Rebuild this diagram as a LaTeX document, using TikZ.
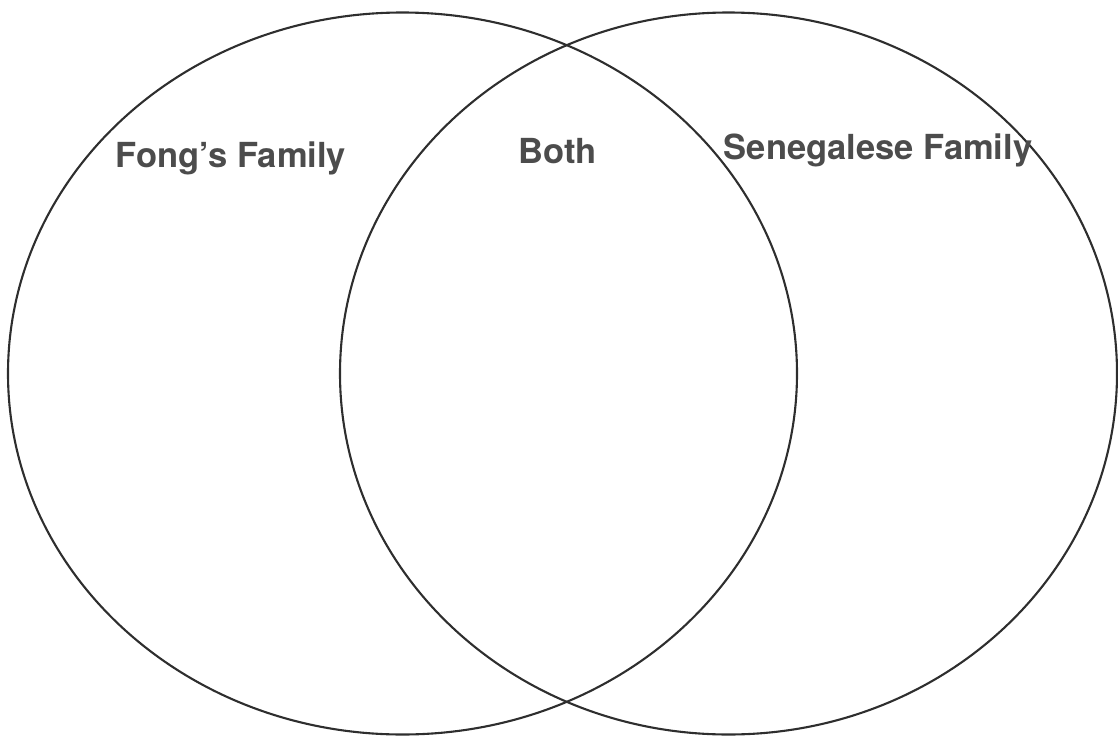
\documentclass[tikz,border=0pt]{standalone}
\usepackage{fontspec}
\setmainfont{TeX Gyre Heros}
\begin{document}
\begin{tikzpicture}[x=1pt,y=-1pt]
  \tikzset{
    ring/.style={draw=black!82, line width=2.1pt},
    setname/.style={font=\bfseries\fontsize{34.5}{34.5}\selectfont, text=black!70, inner sep=0pt, anchor=base}
  }
  \useasboundingbox (0,0) rectangle (1118,736);
  % the two sets
  \draw[ring] (402.5,373.5) ellipse [x radius=394.5, y radius=361];
  \draw[ring] (728.5,373.5) ellipse [x radius=388.5, y radius=361];
  % labels
  \node[setname] (fong) at (231,167) {Fong’s Family};
  \node[setname] (both) at (557.5,163) {Both};
  \node[setname] (senegal) at (878,159) {Senegalese Family};
\end{tikzpicture}
\end{document}
